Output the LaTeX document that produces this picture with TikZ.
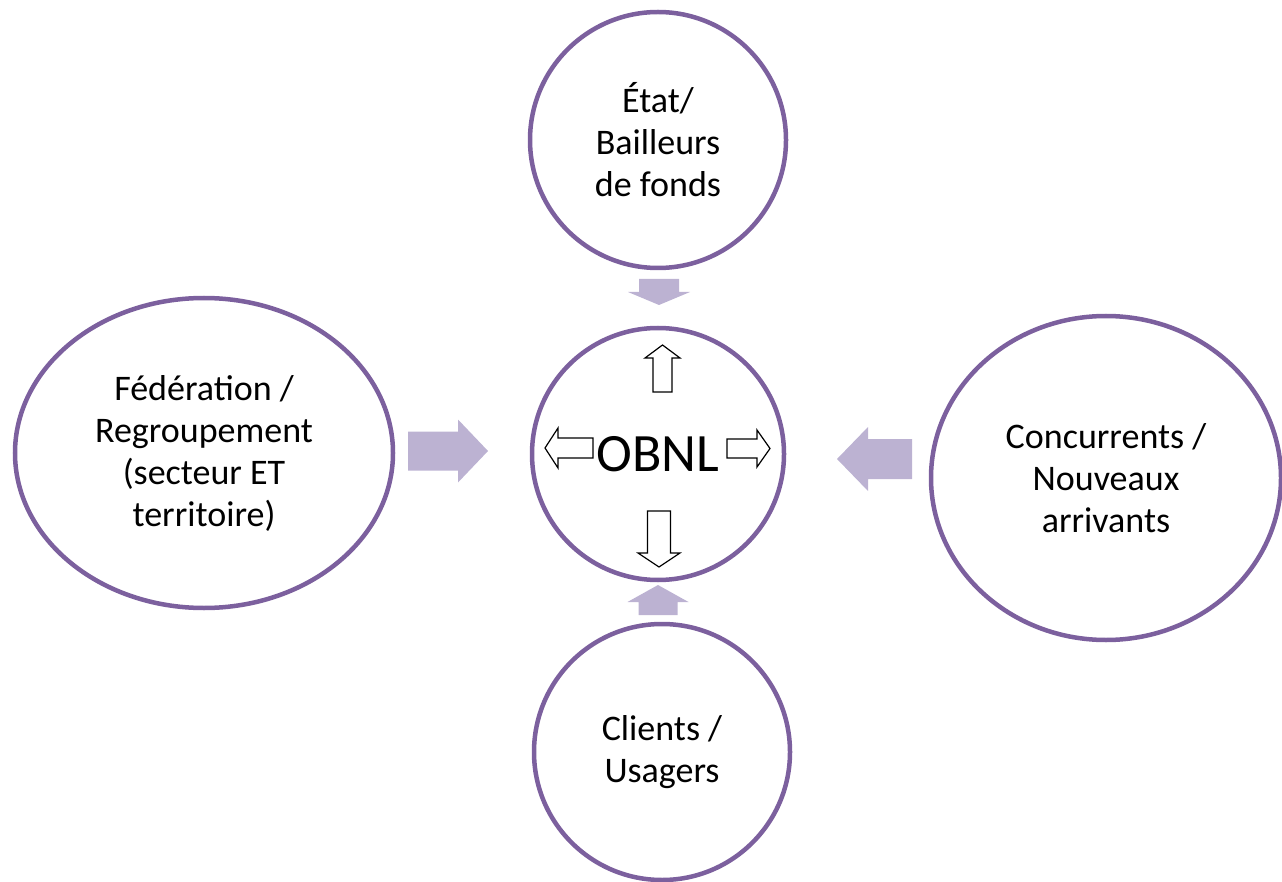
\documentclass[tikz,border=0pt]{standalone}
\usepackage{fontspec}
\setmainfont{Carlito}
\usetikzlibrary{shapes.geometric}
\definecolor{violetbord}{RGB}{124,96,158}
\definecolor{lavande}{RGB}{188,178,210}
\tikzset{
  rond/.style={circle, draw=violetbord, line width=4.5pt, fill=white, align=center, inner sep=0pt, minimum size=256pt, font=\fontsize{36}{42}\selectfont},
  ovale/.style={ellipse, draw=violetbord, line width=4.5pt, fill=white, align=center, inner sep=0pt, font=\fontsize{36}{42}\selectfont},
  plein/.style={fill=lavande},
  creux/.style={draw=black, fill=white, line width=1.2pt, line join=miter},
}
% fleche bloc : centre, angle, longueur, longueur de la tete, demi-tige, demi-tete, style
\newcommand{\flechebloc}[7]{%
\begin{scope}[shift={#1}, rotate=#2]
\path[#7] (-#3/2,-#5)--(#3/2-#4,-#5)--(#3/2-#4,-#6)--(#3/2,0)--(#3/2-#4,#6)--(#3/2-#4,#5)--(-#3/2,#5)--cycle;
\end{scope}}
\begin{document}
\begin{tikzpicture}[x=1pt, y=-1pt]
\useasboundingbox (0,0) rectangle (1282,882);
%Les cercles
\node[rond] (etat) at (658,140) {État/\\Bailleurs\\de fonds};
\node[rond, minimum size=252pt, font=\fontsize{54}{60}\selectfont] (obnl) at (658,454) {OBNL};
\node[rond] (clients) at (662,752) {Clients /\\Usagers};
\node[ovale, minimum width=378pt, minimum height=310pt] (federation) at (204,453) {Fédération /\\Regroupement\\(secteur ET\\territoire)};
\node[ovale, minimum width=350pt, minimum height=324pt] (concurrents) at (1106,478) {Concurrents /\\Nouveaux\\arrivants};
%Fleches vers l'OBNL
\flechebloc{(659,292)}{270}{26}{13}{20}{31}{plein}
\flechebloc{(658,600)}{90}{30}{17}{19.5}{30.5}{plein}
\flechebloc{(448,451)}{0}{80}{30}{19.5}{31.5}{plein}
\flechebloc{(874.5,459)}{180}{75}{31}{20}{32}{plein}
%Fleches sortantes
\flechebloc{(662.5,368.5)}{90}{47}{13}{9.5}{17.5}{creux}
\flechebloc{(659,539)}{270}{56}{14}{11.5}{21}{creux}
\flechebloc{(569,448)}{180}{48}{13}{10}{20}{creux}
\flechebloc{(748.5,448.5)}{0}{43}{13}{9.5}{18.5}{creux}
\end{tikzpicture}
\end{document}
